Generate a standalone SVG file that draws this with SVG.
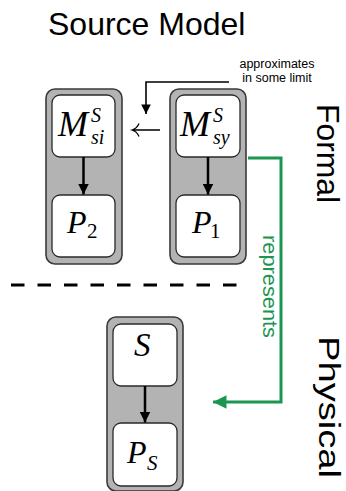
<svg xmlns="http://www.w3.org/2000/svg" width="346" height="491" viewBox="0 0 346 491">
<style>
.outer{fill:#b3b3b3;stroke:#3a3a3a;stroke-width:1.6}
.inner{fill:#ffffff;stroke:#2a2a2a;stroke-width:1.3}
.m{font-family:"Liberation Serif","Times New Roman",serif;font-style:italic;fill:#000}
.up{font-style:normal}
.sans{font-family:"Liberation Sans",Arial,Helvetica,sans-serif;fill:#000}
.flow{stroke:#000;stroke-width:2.5;fill:none}
</style>
<defs>
<marker id="ah" viewBox="0 0 10 10" refX="10" refY="5" markerWidth="4.4" markerHeight="4.4" markerUnits="strokeWidth" orient="auto">
<path d="M0,0 L10,5 L0,10 Z" fill="#000"/>
</marker>
<marker id="ahs" viewBox="0 0 10 10" refX="10" refY="5" markerWidth="6" markerHeight="6" markerUnits="strokeWidth" orient="auto">
<path d="M0,0 L10,5 L0,10 Z" fill="#000"/>
</marker>
<marker id="ahg" viewBox="0 0 10 10" refX="10" refY="5" markerWidth="6.5" markerHeight="4.5" markerUnits="strokeWidth" orient="auto">
<path d="M0,0 L10,5 L0,10 Z" fill="#1a9650"/>
</marker>
</defs>

<text class="sans" x="48" y="35" font-size="32">Source Model</text>
<text class="sans" font-size="12.5" text-anchor="middle"><tspan x="277" y="68">approximates</tspan><tspan x="277" y="82">in some limit</tspan></text>

<g id="formal-label"><text class="sans" transform="translate(317,104) rotate(90)" font-size="31" textLength="99" lengthAdjust="spacingAndGlyphs">Formal</text></g>
<g id="physical-label"><text class="sans" transform="translate(319,336) rotate(90)" font-size="30" textLength="142" lengthAdjust="spacingAndGlyphs">Physical</text></g>

<g id="divider"><line x1="11" y1="285" x2="238" y2="285" stroke="#000" stroke-width="3" stroke-dasharray="13.5 13"/></g>

<g id="left-model">
<rect class="outer" x="46" y="89" width="76" height="175" rx="9"/>
<g id="M_si">
<rect class="inner" x="52" y="95" width="63" height="62" rx="8"/>
<text class="m"><tspan x="58" y="136" font-size="36">M</tspan><tspan x="91" y="122" font-size="20">S</tspan><tspan x="91" y="144" font-size="20">si</tspan></text>
</g>
<g id="P2">
<rect class="inner" x="52" y="195" width="63" height="62" rx="8"/>
<text class="m"><tspan x="67" y="233" font-size="32">P</tspan><tspan class="up" x="87" y="238" font-size="21">2</tspan></text>
</g>
</g>

<g id="right-model">
<rect class="outer" x="170" y="89" width="76" height="175" rx="9"/>
<g id="M_sy">
<rect class="inner" x="176" y="95" width="64" height="62" rx="8"/>
<text class="m"><tspan x="180" y="136" font-size="36">M</tspan><tspan x="213" y="122" font-size="20">S</tspan><tspan x="213" y="144" font-size="20">sy</tspan></text>
</g>
<g id="P1">
<rect class="inner" x="176" y="195" width="64" height="62" rx="8"/>
<text class="m"><tspan x="192" y="233" font-size="32">P</tspan><tspan class="up" x="210" y="238" font-size="21">1</tspan></text>
</g>
</g>

<g id="physical-model">
<rect class="outer" x="107" y="317" width="76" height="174" rx="9"/>
<g id="S">
<rect class="inner" x="113" y="324" width="64" height="62" rx="8"/>
<text class="m" x="134" y="356" font-size="33">S</text>
</g>
<g id="P_S">
<rect class="inner" x="113" y="423" width="64" height="63" rx="8"/>
<text class="m"><tspan x="127" y="463" font-size="32">P</tspan><tspan x="147" y="470" font-size="21">S</tspan></text>
</g>
</g>

<g id="connectors">
<line class="flow" x1="83.5" y1="157" x2="83.5" y2="194.5" marker-end="url(#ah)"/>
<line class="flow" x1="208" y1="157" x2="208" y2="194.5" marker-end="url(#ah)"/>
<line class="flow" x1="145" y1="386" x2="145" y2="422.5" marker-end="url(#ah)"/>
<path d="M160,130 H133 M139,123.5 Q137,128.5 132,130 Q137,131.5 139,136.5" fill="none" stroke="#000" stroke-width="1.3"/>
<path d="M229,82 H146 V114" fill="none" stroke="#000" stroke-width="1.6" marker-end="url(#ahs)"/>
<path d="M248,158 H281 V402 H213" fill="none" stroke="#1a9650" stroke-width="3" marker-end="url(#ahg)"/>
<text transform="translate(263,235) rotate(90)" font-family="'Liberation Sans',Arial,sans-serif" font-size="20" fill="#1a9650" textLength="103" lengthAdjust="spacingAndGlyphs">represents</text>
</g>
</svg>
